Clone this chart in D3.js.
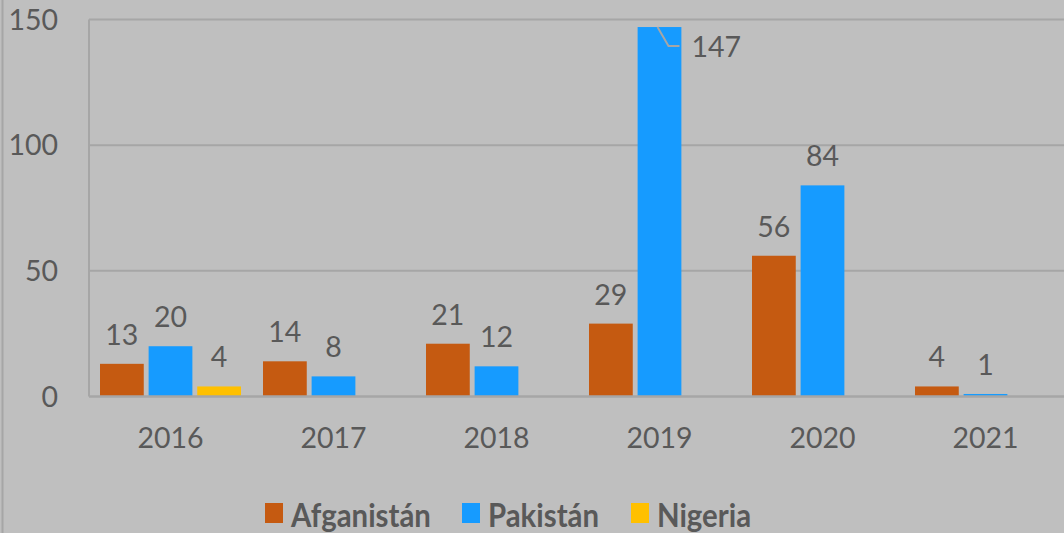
<!DOCTYPE html>
<html>
<head>
<meta charset="utf-8">
<script src="https://cdn.jsdelivr.net/npm/d3@7"></script>
<style>
  body { margin: 0; background: #bfbfbf; }
  svg { display: block; font-family: Lato, "Open Sans", sans-serif; }
</style>
</head>
<body>
<div id="chart"></div>
<script>
const years = ["2016", "2017", "2018", "2019", "2020", "2021"];
const seriesNames = ["Afganistán", "Pakistán", "Nigeria"];
const afganistan = [13, 14, 21, 29, 56, 4];
const pakistan = [20, 8, 12, 147, 84, 1];
const nigeria = [4, null, null, null, null, null];
const yTicks = [0, 50, 100, 150];
const colors = ["#c55a11", "#169bff", "#ffc000"];

const width = 1064, height = 533;
const margin = {top: 19.5, right: -3, bottom: 136.5, left: 89};
const fontSize = 28.5;

const svg = d3.select("#chart").append("svg")
  .attr("width", width)
  .attr("height", height);

svg.append("rect")
  .attr("width", width).attr("height", height)
  .attr("fill", "#bfbfbf");
// chart outer border (left edge visible)
svg.append("line")
  .attr("x1", 2.5).attr("x2", 2.5).attr("y1", 0).attr("y2", height)
  .attr("stroke", "#a6a6a6").attr("stroke-width", 2);

const table = years.map((y, i) => ({year: y, values: [afganistan[i], pakistan[i], nigeria[i]]}));

const x = d3.scaleBand()
  .domain(years)
  .range([margin.left, width - margin.right]);

const x1 = d3.scaleBand()
  .domain(seriesNames)
  .range([11, x.bandwidth() - 11])
  .paddingInner(0.1);

const y = d3.scaleLinear()
  .domain([0, 150])
  .range([height - margin.bottom, margin.top]);

// gridlines
svg.append("g")
  .selectAll("line")
  .data(yTicks.filter(d => d > 0))
  .join("line")
    .attr("x1", margin.left).attr("x2", width)
    .attr("y1", d => y(d)).attr("y2", d => y(d))
    .attr("stroke", "#a6a6a6").attr("stroke-width", 2);

// y axis line
svg.append("line")
  .attr("x1", margin.left).attr("x2", margin.left)
  .attr("y1", y(150)).attr("y2", y(0))
  .attr("stroke", "#a6a6a6").attr("stroke-width", 2);

// y tick labels
svg.append("g")
  .selectAll("text")
  .data(yTicks)
  .join("text")
    .attr("x", 58)
    .attr("y", d => y(d))
    .attr("dy", "0.36em")
    .attr("text-anchor", "end")
    .attr("fill", "#595959")
    .attr("font-size", fontSize)
    .text(d => d);

// bars
const groups = svg.append("g")
  .selectAll("g")
  .data(table)
  .join("g")
    .attr("transform", d => `translate(${x(d.year)},0)`);

const cells = d => d.values.map((v, i) => ({name: seriesNames[i], value: v, i: i, year: d.year}))
  .filter(c => c.value != null);

groups.selectAll("rect")
  .data(cells)
  .join("rect")
    .attr("x", d => x1(d.name))
    .attr("width", x1.bandwidth())
    .attr("y", d => y(d.value))
    .attr("height", d => y(0) - y(d.value))
    .attr("fill", d => colors[d.i]);

// baseline
svg.append("line")
  .attr("x1", margin.left).attr("x2", width)
  .attr("y1", y(0)).attr("y2", y(0))
  .attr("stroke", "#a6a6a6").attr("stroke-width", 2.5);

// value labels
groups.selectAll("text")
  .data(cells)
  .join("text")
    .attr("x", d => d.value > 140 ? x1(d.name) + x1.bandwidth() + 10 : x1(d.name) + x1.bandwidth() / 2)
    .attr("y", d => d.value > 140 ? y(d.value) + 30 : y(d.value) - 19)
    .attr("text-anchor", d => d.value > 140 ? "start" : "middle")
    .attr("fill", "#595959")
    .attr("font-size", fontSize)
    .text(d => d.value);

// leader line for the clipped label
groups.selectAll("polyline")
  .data(d => cells(d).filter(c => c.value > 140))
  .join("polyline")
    .attr("points", d => {
      const xa = x1(d.name) + x1.bandwidth() / 2 - 2;
      return [[xa, y(d.value)], [xa + 11, y(d.value) + 19], [xa + 22, y(d.value) + 19]].join(" ");
    })
    .attr("fill", "none")
    .attr("stroke", "#a6a6a6")
    .attr("stroke-width", 2);

// x labels
svg.append("g")
  .selectAll("text")
  .data(years)
  .join("text")
    .attr("x", d => x(d) + x.bandwidth() / 2)
    .attr("y", 438)
    .attr("dy", "0.36em")
    .attr("text-anchor", "middle")
    .attr("fill", "#595959")
    .attr("font-size", fontSize)
    .text(d => d);

// legend
const legendX = [265, 462, 631];
const legend = svg.append("g")
  .selectAll("g")
  .data(seriesNames)
  .join("g")
    .attr("transform", (d, i) => `translate(${legendX[i]},503)`);

legend.append("rect")
  .attr("width", 18).attr("height", 20)
  .attr("fill", (d, i) => colors[i]);

legend.append("text")
  .attr("transform", "translate(26,23.5) scale(0.89,1)")
  .attr("fill", "#595959")
  .attr("font-size", 33)
  .attr("font-weight", "bold")
  .text(d => d);
</script>
</body>
</html>
